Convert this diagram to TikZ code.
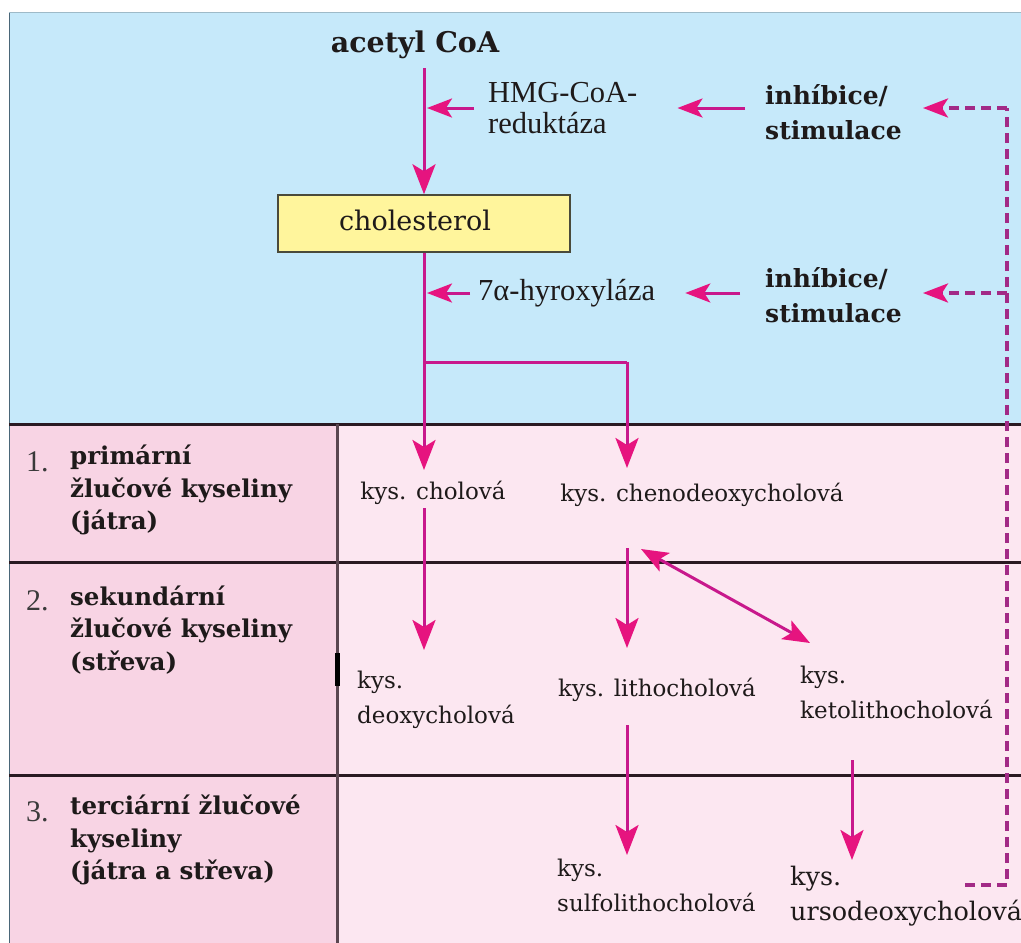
\documentclass[tikz,border=0pt]{standalone}
\usepackage{fontspec}
\setmainfont{DejaVu Serif}
\newfontfamily\tms{Liberation Serif}
\usetikzlibrary{arrows.meta}
\definecolor{bgblue}{HTML}{C6E9FA}
\definecolor{pinkL}{HTML}{F8D4E4}
\definecolor{pinkR}{HTML}{FCE7F1}
\definecolor{arrc}{HTML}{C8188C}
\definecolor{tipc}{HTML}{E6147F}
\definecolor{dashc}{HTML}{A22A86}
\definecolor{gridc}{HTML}{2A1A22}
\definecolor{divc}{HTML}{5A4650}
\definecolor{edgec}{HTML}{4A6678}
\definecolor{boxy}{HTML}{FFF59C}
\definecolor{boxb}{HTML}{4A4A3A}
\definecolor{txt}{HTML}{1E1A1A}
\definecolor{numc}{HTML}{3A3A3A}
\begin{document}
\begin{tikzpicture}[x=1pt,y=-1pt,
  arr/.style={draw=arrc, line width=3pt, -{Stealth[length=30pt,width=23pt,inset=7pt,color=tipc]}},
  sarr/.style={draw=arrc, line width=3pt, -{Stealth[length=25pt,width=19pt,inset=6pt,color=tipc]}},
  darr/.style={draw=arrc, line width=3pt, {Stealth[length=27pt,width=21pt,inset=6pt,color=tipc]}-{Stealth[length=27pt,width=21pt,inset=6pt,color=tipc]}},
  plainline/.style={draw=arrc, line width=3pt},
  dline/.style={draw=dashc, line width=3.5pt, dash pattern=on 10pt off 6pt},
  dsarr/.style={dline, -{Stealth[length=25pt,width=19pt,inset=6pt,color=tipc]}},
  grid/.style={draw=gridc, line width=3pt},
  lbl/.style={inner sep=0pt, text=txt, font=\fontsize{23}{35}\selectfont, align=left},
  enz/.style={inner sep=0pt, text=txt, font=\tms\fontsize{30.5}{33}\selectfont, align=left},
  reg/.style={inner sep=0pt, text=txt, font=\bfseries\fontsize{25}{35}\selectfont, align=left},
  lvl/.style={inner sep=0pt, text=txt, font=\bfseries\fontsize{24.5}{32.5}\selectfont, align=left, anchor=west},
  num/.style={inner sep=0pt, text=numc, font=\tms\fontsize{30}{30}\selectfont, anchor=west},
  cbox/.style={draw=boxb, line width=1.5pt, fill=boxy, minimum width=292pt, minimum height=57pt, inner sep=0pt},
  ctext/.style={inner sep=0pt, text=txt, font=\fontsize{27}{30}\selectfont}
]
\useasboundingbox (0,0) rectangle (1021,943);
\clip (0,0) rectangle (1021,943);
% backgrounds
\fill[white] (0,0) rectangle (1021,943);
\fill[bgblue] (9,12) rectangle (1021,424);
\fill[pinkL] (9,424) rectangle (337,943);
\fill[pinkR] (337,424) rectangle (1021,943);
\draw[edgec, line width=1.5pt] (9.5,12) -- (9.5,943);
\draw[draw=bgblue!80!black, line width=1pt] (9,12.5) -- (1021,12.5);
% grid lines
\draw[grid] (9,424) -- (1021,424);
\draw[grid] (9,562) -- (1021,562);
\draw[grid] (9,775) -- (1021,775);
\draw[draw=divc, line width=3pt] (337,424) -- (337,943);
\draw[draw=black, line width=5pt] (337,653) -- (337,686);

% nodes top
\node[inner sep=0pt, text=txt, font=\bfseries\fontsize{28.5}{30}\selectfont] (acetyl) at (415,45) {acetyl CoA};
\node[cbox] (chol) at (424,223.5) {};
\node[ctext] (choltext) at (415,220) {cholesterol};
\node[enz, anchor=west] (hmg) at (488,108) {HMG-CoA-\\[-2pt]reduktáza};
\node[enz, anchor=west] (hyd) at (478,293) {7α-hyroxyláza};
\node[reg, anchor=west] (inh1) at (765,112) {inhíbice/\\stimulace};
\node[reg, anchor=west] (inh2) at (765,295) {inhíbice/\\stimulace};

% level labels
\node[num] (n1) at (26,462) {1.};
\node[lvl] (lv1) at (70,490) {primární\\žlučové kyseliny\\(játra)};
\node[num] (n2) at (26,601) {2.};
\node[lvl] (lv2) at (70,630) {sekundární\\žlučové kyseliny\\(střeva)};
\node[num] (n3) at (26,812) {3.};
\node[lvl] (lv3) at (70,840) {terciární žlučové\\kyseliny\\(játra a střeva)};

% acids
\node[lbl] (cholova) at (433,493) {kys. cholová};
\node[lbl] (cheno) at (702,495) {kys. chenodeoxycholová};
\node[lbl, anchor=west] (deoxy) at (357,700) {kys.\\deoxycholová};
\node[lbl] (litho) at (657,690) {kys. lithocholová};
\node[lbl, anchor=west] (keto) at (800,692) {kys.\\ketolithocholová};
\node[lbl, anchor=west] (sulfo) at (557,885) {kys.\\sulfolithocholová};
\node[lbl, anchor=west, font=\fontsize{25.5}{35}\selectfont] (urso) at (790,896) {kys.\\ursodeoxycholová};

% named coordinates
\coordinate (h1) at (427,108);
\coordinate (h2) at (427,293);
\coordinate (br) at (424,362);
\coordinate (br2) at (627,362);
\coordinate (d1) at (1007,108);
\coordinate (d2) at (1007,293);
\coordinate (d3) at (1007,885);
\coordinate (d4) at (965,885);
\coordinate (chT) at (627,468);
\coordinate (c1) at (424,470);
\coordinate (dx0) at (424,508);
\coordinate (dx1) at (424,650);
\coordinate (li0) at (627,548);
\coordinate (li1) at (627,648);
\coordinate (ke0) at (641,549);
\coordinate (ke1) at (810,643);
\coordinate (su0) at (627,725);
\coordinate (su1) at (627,855);
\coordinate (ur0) at (852,760);
\coordinate (ur1) at (852,860);

% main pathway
\draw[arr] (acetyl.south -| chol.north) ++(0,9) -- (chol.north);
\draw[arr] (chol.south) -- (c1);
\draw[plainline] (br) -- (br2);
\draw[arr] (br2) -- (chT);
\draw[arr] (dx0) -- (dx1);
\draw[arr] (li0) -- (li1);
\draw[darr] (ke0) -- (ke1);
\draw[arr] (su0) -- (su1);
\draw[arr] (ur0) -- (ur1);

% regulation
\draw[sarr] ([xshift=-14pt]hmg.west |- h1) -- (h1);
\draw[sarr] ([xshift=-8pt]hyd.west |- h2) -- (h2);
\draw[sarr] ([xshift=-20pt]inh1.west |- h1) -- ([xshift=40pt]hmg.east |- h1);
\draw[sarr] ([xshift=-25pt]inh2.west |- h2) -- ([xshift=30pt]hyd.east |- h2);
\draw[dline] (d4) -- (d3) -- (d1);
\draw[dsarr] (d1) -- ([xshift=21pt]inh1.east |- d1);
\draw[dsarr] (d2) -- ([xshift=21pt]inh2.east |- d2);
\end{tikzpicture}
\end{document}
